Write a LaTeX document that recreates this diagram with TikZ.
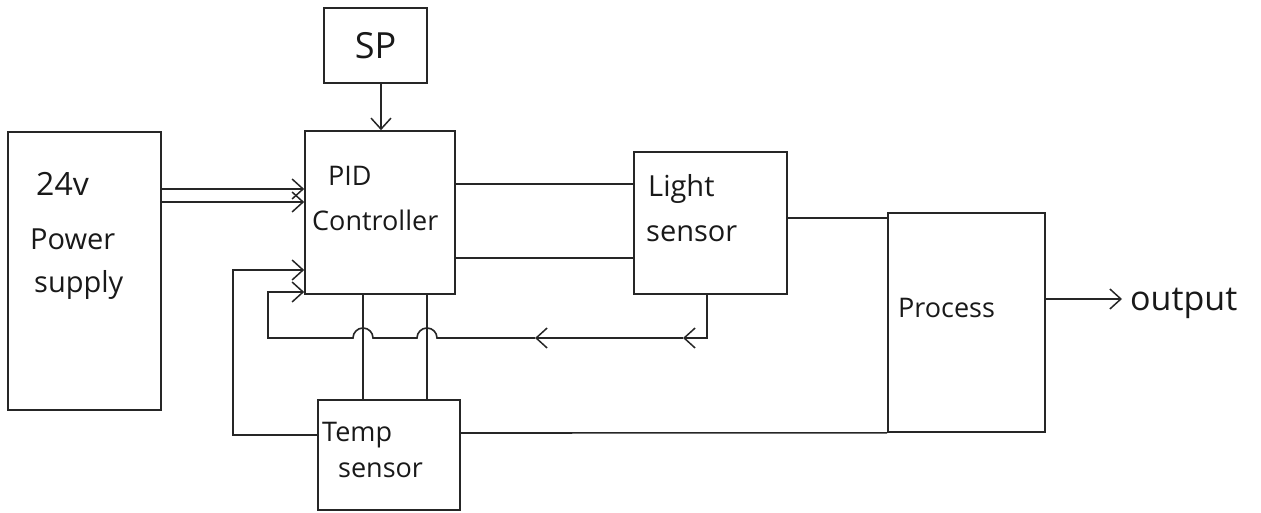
\documentclass[tikz,border=0pt]{standalone}
\usepackage{fontspec}
\setmainfont{Open Sans}
\usetikzlibrary{arrows.meta,calc}
\begin{document}
\begin{tikzpicture}[x=1pt,y=-1pt,
  line/.style={draw=black!85, line width=1.6pt},
  arr/.style={line, -{Straight Barb[length=11pt,width=20pt,line width=1.5pt]}},
  blk/.style={line, rectangle, inner sep=0pt},
  txt/.style={font=\fontsize{27}{42}\selectfont, align=left, inner sep=0pt, text=black!90}]
\useasboundingbox (0,0) rectangle (1261,513);
% blocks
\node[blk, minimum width=103pt, minimum height=75pt]  (SP)    at (375.5,45.5) {};
\node[blk, minimum width=150pt, minimum height=163pt] (PID)   at (380,212.5) {};
\node[blk, minimum width=153pt, minimum height=278pt] (PS)    at (84.5,271) {};
\node[blk, minimum width=153pt, minimum height=142pt] (LS)    at (710.5,223) {};
\node[blk, minimum width=157pt, minimum height=219pt] (PR)    at (966.5,322.5) {};
\node[blk, minimum width=142pt, minimum height=110pt] (TS)    at (389,455) {};
% texts
\node[txt, font=\fontsize{36}{40}\selectfont] (tSP) at (SP.center) {SP};
\node[txt, anchor=base west, font=\fontsize{32}{40}\selectfont] (tPS1) at (36,196) {24v};
\node[txt, anchor=base west, font=\fontsize{29}{40}\selectfont] (tPS2) at (30,250) {Power};
\node[txt, anchor=base west, font=\fontsize{29}{40}\selectfont] (tPS3) at (34,292) {supply};
\node[txt, anchor=base west] (tPID1) at (328,186) {PID};
\node[txt, anchor=base west] (tPID2) at (312,231) {Controller};
\node[txt, anchor=base west, font=\fontsize{29}{40}\selectfont] (tLS1) at (648,197) {Light};
\node[txt, anchor=base west, font=\fontsize{29}{40}\selectfont] (tLS2) at (646,241) {sensor};
\node[txt, anchor=base west] (tPR) at (898,317) {Process};
\node[txt, anchor=base west] (tTS1) at (322,441) {Temp};
\node[txt, anchor=base west] (tTS2) at (338,477) {sensor};
\node[txt, anchor=base west, font=\fontsize{34}{40}\selectfont] (out) at (1130,310) {output};
% set point
\draw[arr] (SP.south -| 381,0) -- (PID.north -| 381,0);
% power supply to PID
\draw[arr] (PS.east |- 0,189) -- (PID.west |- 0,189);
\draw[arr] (PS.east |- 0,202) -- (PID.west |- 0,202);
% PID to light sensor
\draw[line] (PID.east |- 0,184) -- (LS.west |- 0,184);
\draw[line] (PID.east |- 0,258) -- (LS.west |- 0,258);
% light sensor to process
\draw[line] (LS.east |- 0,218) -- (PR.west |- 0,218);
% process to output
\draw[arr] (PR.east |- 0,299) -- (1122,299);
% PID to temp sensor
\draw[line] (PID.south -| 363,0) -- (TS.north -| 363,0);
\draw[line] (PID.south -| 427,0) -- (TS.north -| 427,0);
% feedback from light sensor
\coordinate (fb1) at (707,338);
\coordinate (fb2) at (683,338);
\coordinate (fb3) at (535,338);
\draw[arr] (LS.south -| fb1) -- (fb1) -- (fb2);
\draw[arr] (fb2) -- (fb3);
\draw[arr] (fb3) -- (437,338) arc[start angle=0, end angle=-180, radius=10]
  -- (373,338) arc[start angle=0, end angle=-180, radius=10]
  -- (268,338) -- (268,292) -- (PID.west |- 0,292);
% temp sensor loop
\draw[arr] (TS.west |- 0,435) -- (233,435) -- (233,270) -- (PID.west |- 0,270);
\draw[line] (TS.east |- 0,433) -- (PR.south west);
\end{tikzpicture}
\end{document}
